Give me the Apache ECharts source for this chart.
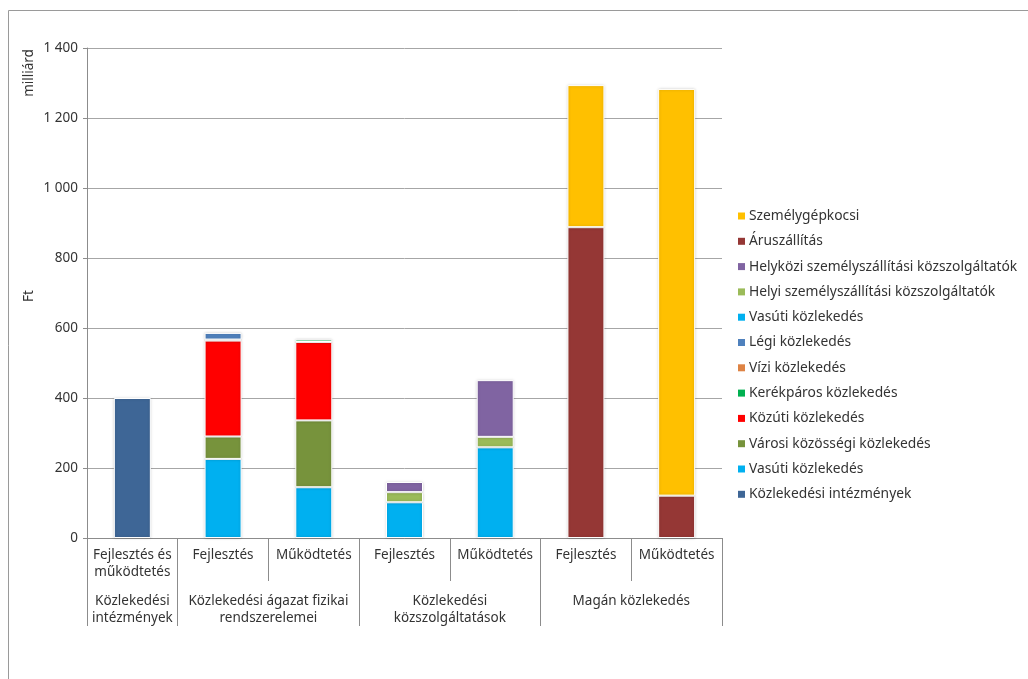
<!DOCTYPE html>
<html>
<head>
<meta charset="utf-8">
<script src="https://cdn.jsdelivr.net/npm/echarts@6/dist/echarts.min.js"></script>
<style>
  html, body { margin: 0; padding: 0; background: #fff; }
  #chart { width: 1028px; height: 679px; }
</style>
</head>
<body>
<div id="chart"></div>
<script>
// kategóriák (alsó és felső szint)
const categories = ['Fejlesztés és\nműködtetés', 'Fejlesztés', 'Működtetés', 'Fejlesztés', 'Működtetés', 'Fejlesztés', 'Működtetés'];
const groupNames = ['Közlekedési\nintézmények', 'Közlekedési ágazat fizikai\nrendszerelemei', 'Közlekedési\nközszolgáltatások', 'Magán közlekedés'];
const groupCenters = [0.5, 2, 4, 6];
const groupBounds = [0, 1, 3, 5, 7];
const yTicks = [0, 200, 400, 600, 800, 1000, 1200, 1400];

// sorozatok (milliárd Ft)
const intezmenyek = [400, null, null, null, null, null, null];
const vasuti = [null, 226, 145, null, null, null, null];
const varosi = [null, 64, 191, null, null, null, null];
const kozuti = [null, 274, 224, null, null, null, null];
const kerekparos = [null, null, 7, null, null, null, null];
const vizi = [null, 3, null, null, null, null, null];
const legi = [null, 19, null, null, null, null, null];
const vasutiKsz = [null, null, null, 102, 259, null, null];
const helyi = [null, null, null, 29, 30, null, null];
const helykozi = [null, null, null, 29, 162, null, null];
const aruszallitas = [null, null, null, null, null, 888, 121];
const szemelygepkocsi = [null, null, null, null, null, 406, 1162];

const seriesDefs = [
  { name: 'Közlekedési intézmények', data: intezmenyek, color: '#3E6696' },
  { name: 'Vasúti közlekedés', data: vasuti, color: '#00B0F0' },
  { name: 'Városi közösségi közlekedés', data: varosi, color: '#77933C' },
  { name: 'Közúti közlekedés', data: kozuti, color: '#FF0000' },
  { name: 'Kerékpáros közlekedés', data: kerekparos, color: '#00B050' },
  { name: 'Vízi közlekedés', data: vizi, color: '#DE8344' },
  { name: 'Légi közlekedés', data: legi, color: '#4F81BD' },
  { name: 'Vasúti közlekedés ', data: vasutiKsz, color: '#00B0F0' },
  { name: 'Helyi személyszállítási közszolgáltatók', data: helyi, color: '#9BBB59' },
  { name: 'Helyközi személyszállítási közszolgáltatók', data: helykozi, color: '#8064A2' },
  { name: 'Áruszállítás', data: aruszallitas, color: '#953735' },
  { name: 'Személygépkocsi', data: szemelygepkocsi, color: '#FFC000' }
];

const font = 'Noto Sans';
const chart = echarts.init(document.getElementById('chart'));

const fmt = v => String(v).replace(/\B(?=(\d{3})+(?!\d))/g, ' ');

chart.setOption({
  animation: false,
  textStyle: { fontFamily: font },
  grid: { left: 87, right: 306, top: 48, bottom: 141 },
  legend: {
    orient: 'vertical',
    left: 733,
    top: 203,
    itemWidth: 7,
    itemHeight: 7,
    itemGap: 9.3,
    icon: 'rect',
    itemStyle: { borderWidth: 0, shadowBlur: 0 },
    textStyle: { fontFamily: font, fontSize: 13.8, color: '#333', lineHeight: 16, padding: [0, 0, 0, -1] },
    data: seriesDefs.map(s => s.name).reverse()
  },
  xAxis: [
    {
      type: 'category',
      data: categories,
      position: 'bottom',
      axisLine: { lineStyle: { color: '#8c8c8c' } },
      axisTick: { show: true, interval: 0, length: 43, lineStyle: { color: '#8c8c8c' } },
      axisLabel: { interval: 0, margin: 9, fontSize: 13.5, lineHeight: 17, color: '#333' },
      splitLine: { show: false }
    },
    {
      type: 'value',
      min: 0,
      max: 7,
      position: 'bottom',
      offset: 43,
      axisLine: { show: false },
      splitLine: { show: false },
      axisTick: { show: true, customValues: groupBounds, length: 45, lineStyle: { color: '#8c8c8c' } },
      axisLabel: {
        customValues: groupCenters,
        margin: 12,
        fontSize: 13.5,
        lineHeight: 17,
        color: '#333',
        formatter: v => groupNames[groupCenters.indexOf(v)]
      }
    }
  ],
  yAxis: {
    type: 'value',
    min: yTicks[0],
    max: yTicks[yTicks.length - 1],
    interval: 200,
    axisLine: { show: true, lineStyle: { color: '#8c8c8c' } },
    axisTick: { show: true, length: 4, lineStyle: { color: '#8c8c8c' } },
    axisLabel: { margin: 9, fontSize: 13.5, color: '#333', formatter: fmt },
    splitLine: { lineStyle: { color: '#a6a6a6' } }
  },
  graphic: [
    { type: 'rect', shape: { x: 8.5, y: 10.5, width: 1100, height: 700 }, style: { fill: 'none', stroke: '#9a9a9a', lineWidth: 1 }, silent: true },
    { type: 'text', x: 29, y: 73, rotation: Math.PI / 2, style: { text: 'milliárd', font: '13.5px ' + font, fill: '#333', align: 'center', verticalAlign: 'middle' } },
    { type: 'text', x: 29, y: 296, rotation: Math.PI / 2, style: { text: 'Ft', font: '13.5px ' + font, fill: '#333', align: 'center', verticalAlign: 'middle' } }
  ],
  series: seriesDefs.map(s => ({
    name: s.name,
    type: 'bar',
    stack: 'total',
    xAxisIndex: 0,
    barWidth: 37,
    data: s.data,
    itemStyle: {
      color: s.color,
      borderColor: '#fff',
      borderWidth: 1,
      shadowBlur: 3,
      shadowColor: 'rgba(0,0,0,0.2)'
    }
  }))
});
</script>
</body>
</html>
